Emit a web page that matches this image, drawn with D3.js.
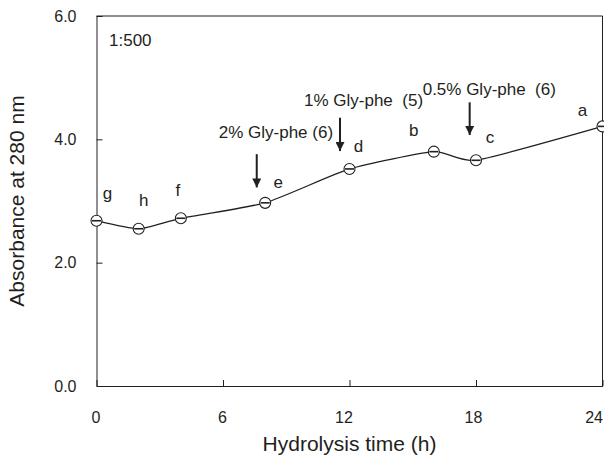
<!DOCTYPE html>
<html>
<head>
<meta charset="utf-8">
<title>hydrolysis</title>
<script src="https://cdn.jsdelivr.net/npm/d3@7"></script>
<style>
  body { margin: 0; background: #fff; }
  svg { display: block; font-family: "Liberation Sans", Arial, sans-serif; }
  .axis text { font-size: 16px; fill: #231f20; }
  .axis path, .axis line { stroke: #231f20; stroke-width: 1; }
</style>
</head>
<body>
<svg width="604" height="461"></svg>
<script>
// data
var hours      = [0, 2, 4, 8, 12, 16, 18, 24];
var absorbance = [2.68, 2.55, 2.72, 2.97, 3.52, 3.80, 3.66, 4.21];
var letters    = ["g", "h", "f", "e", "d", "b", "c", "a"];

var xTicks = [0, 6, 12, 18, 24];
var yTicks = [0, 2, 4, 6];

// additions of Gly-phe (arrow x, arrow top, arrow tip in data units)
var addLabels = ["2% Gly-phe (6)", "1% Gly-phe  (5)", "0.5% Gly-phe  (6)"];
var addHour   = [7.6, 11.55, 17.7];
var addTop    = [3.76, 4.35, 4.60];
var addTip    = [3.22, 3.81, 4.07];

// layout only: offsets of letters / annotation texts, in px
var letterDx = [11, 5, -3, 13, 9, -20, 14, -20];
var letterDy = [-22, -23, -22, -15, -17, -16, -17, -10];
var addTextDx = [-38, -36, -47];
var addTextDy = [-16, -12, -7];

var svg = d3.select("svg"),
    margin = { top: 16, right: 1.5, bottom: 75, left: 96.5 },
    width = +svg.attr("width") - margin.left - margin.right,
    height = +svg.attr("height") - margin.top - margin.bottom,
    g = svg.append("g").attr("transform", "translate(" + margin.left + "," + margin.top + ")");

var x = d3.scaleLinear().domain([0, 24]).range([0, width]);
var y = d3.scaleLinear().domain([0, 6]).range([height, 0]);

var ink = "#231f20";

// frame (top and right)
g.append("path")
    .attr("d", "M0,0H" + width + "V" + height)
    .attr("fill", "none")
    .attr("stroke", ink);

// axes, ticks pointing inward
var xAxis = g.append("g")
    .attr("class", "axis")
    .attr("transform", "translate(0," + height + ")")
    .call(d3.axisBottom(x).tickValues(xTicks).tickSizeInner(-6).tickSizeOuter(0).tickPadding(26));
xAxis.selectAll(".tick text")
    .attr("text-anchor", function (d) { return d === 24 ? "end" : "middle"; })
    .attr("dx", function (d) { return d === 24 ? 0 : d === 12 ? -6 : d === 18 ? -3 : -1; });

var yAxis = g.append("g")
    .attr("class", "axis")
    .call(d3.axisLeft(y).tickValues(yTicks).tickFormat(d3.format(".1f")).tickSizeInner(-6).tickSizeOuter(0).tickPadding(20));

// axis titles
svg.append("text")
    .attr("x", margin.left + width / 2)
    .attr("y", 451)
    .attr("text-anchor", "middle")
    .style("font-size", "21px")
    .style("fill", ink)
    .text("Hydrolysis time (h)");

svg.append("text")
    .attr("transform", "translate(24," + (margin.top + height / 2) + ") rotate(-90)")
    .attr("text-anchor", "middle")
    .style("font-size", "21px")
    .style("fill", ink)
    .text("Absorbance at 280 nm");

// dilution note
g.append("text")
    .attr("x", 12.5)
    .attr("y", 30)
    .style("font-size", "17px")
    .style("fill", ink)
    .text("1:500");

// smoothed line
var pts = hours.map(function (h, i) { return [h, absorbance[i]]; });
var line = d3.line()
    .x(function (d) { return x(d[0]); })
    .y(function (d) { return y(d[1]); })
    .curve(d3.curveCardinal.tension(0.45));

g.append("path")
    .attr("d", line(pts))
    .attr("fill", "none")
    .attr("stroke", ink)
    .attr("stroke-width", 1.3);

// markers: open circle with a bar
var r = 5.5;
var mk = g.selectAll(".marker")
    .data(pts)
    .enter().append("g")
    .attr("class", "marker")
    .attr("transform", function (d) { return "translate(" + x(d[0]) + "," + y(d[1]) + ")"; });
mk.append("circle")
    .attr("r", r)
    .attr("fill", "#fff")
    .attr("stroke", ink)
    .attr("stroke-width", 1.1);
mk.append("line")
    .attr("x1", -r + 1).attr("x2", r - 1)
    .attr("stroke", ink)
    .attr("stroke-width", 1.6);

// significance letters
g.selectAll(".letter")
    .data(pts)
    .enter().append("text")
    .attr("class", "letter")
    .attr("x", function (d, i) { return x(d[0]) + letterDx[i]; })
    .attr("y", function (d, i) { return y(d[1]) + letterDy[i]; })
    .attr("text-anchor", "middle")
    .style("font-size", "17px")
    .style("fill", ink)
    .text(function (d, i) { return letters[i]; });

// arrows for Gly-phe additions
svg.append("defs").append("marker")
    .attr("id", "head")
    .attr("viewBox", "0 0 10 10")
    .attr("refX", 10).attr("refY", 5)
    .attr("markerUnits", "userSpaceOnUse")
    .attr("markerWidth", 10).attr("markerHeight", 9)
    .attr("orient", "auto")
    .append("path")
    .attr("d", "M0,0L10,5L0,10Z")
    .attr("fill", ink);

addLabels.forEach(function (lab, i) {
    var ax = x(addHour[i]);
    g.append("line")
        .attr("x1", ax).attr("x2", ax)
        .attr("y1", y(addTop[i])).attr("y2", y(addTip[i]))
        .attr("stroke", ink)
        .attr("stroke-width", 2)
        .attr("marker-end", "url(#head)");
    g.append("text")
        .attr("x", ax + addTextDx[i])
        .attr("y", y(addTop[i]) + addTextDy[i])
        .style("font-size", "17px")
        .style("fill", ink)
        .style("white-space", "pre")
        .text(lab);
});
</script>
</body>
</html>
